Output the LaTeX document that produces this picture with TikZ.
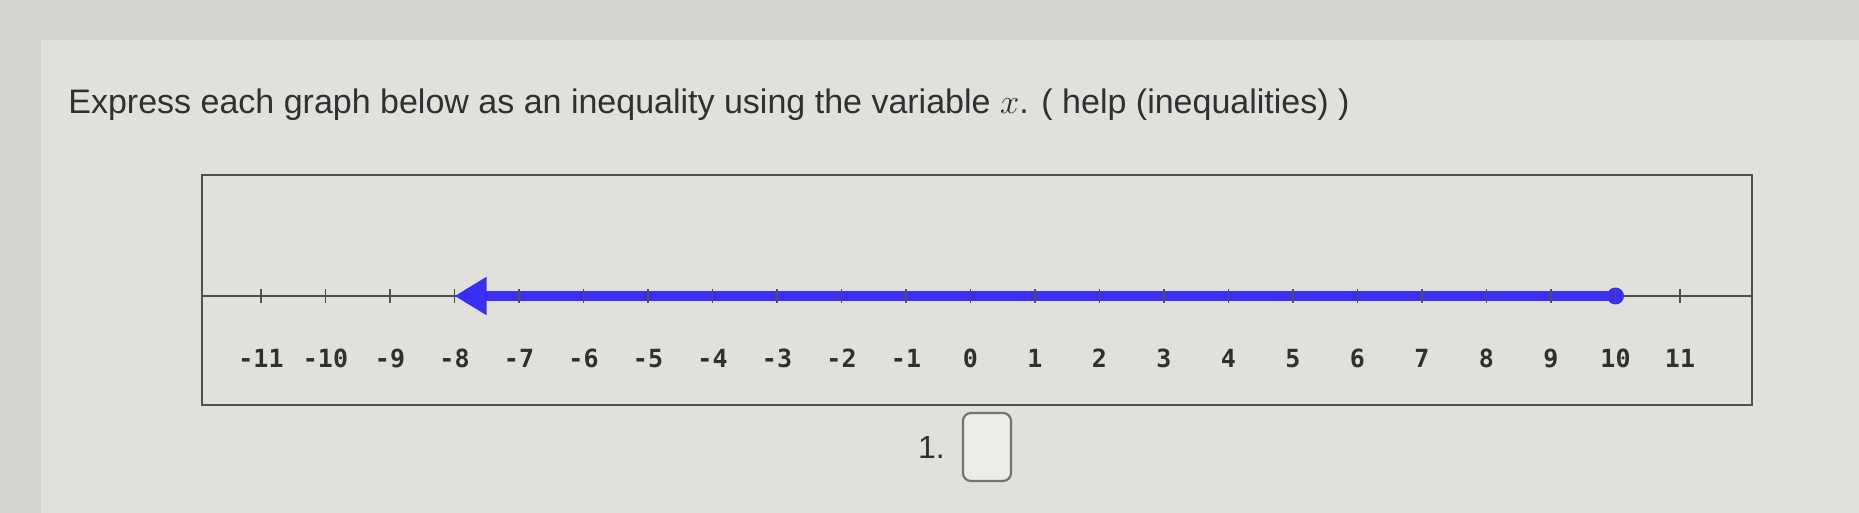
\documentclass[tikz,border=0pt]{standalone}
\usepackage{fontspec}
\setmainfont{Liberation Sans}
\newfontfamily\tickfont{DejaVu Sans Mono}
\usetikzlibrary{arrows.meta}
\definecolor{pagegray}{RGB}{214,212,206}
\definecolor{panelgray}{RGB}{226,224,219}
\definecolor{framegray}{RGB}{80,80,78}
\definecolor{rayblue}{RGB}{58,46,240}
\definecolor{inkgray}{RGB}{48,48,48}

\begin{document}
\begin{tikzpicture}[x=0.5pt, y=-0.5pt,
    frame/.style={draw=framegray, line width=1.3pt},
    axis/.style={draw=framegray, line width=1pt},
    tickmark/.style={draw=framegray, line width=0.8pt},
    ticklabel/.style={anchor=base, font=\tickfont\bfseries\fontsize{12.5}{14}\selectfont, text=inkgray},
    ray/.style={draw=rayblue, line width=5pt, -{Triangle[length=16pt, width=18pt]}}]
  \useasboundingbox (0,0) rectangle (1859,513);
  \fill[pagegray] (0,0) rectangle (1859,513);
  \fill[panelgray] (41,40) rectangle (1859,513);

  \node[anchor=base west, inner sep=0pt, text=inkgray, font=\fontsize{17}{20}\selectfont] (question) at (68,114)
    {Express each graph below as an inequality using the variable $x$. ( help (inequalities) )};

  % number line
  \draw[frame] (202,175) rectangle (1752,405);
  \coordinate (axisL) at (202,296);
  \coordinate (axisR) at (1752,296);
  \draw[axis] (axisL) -- (axisR);
  \foreach \i in {-11,...,11} {
    \coordinate (t\i) at ({970.5+64.5*\i},296);
    \node[ticklabel] (l\i) at ({970.5+64.5*\i},368) {\i};
  }
  \draw[ray] (t10) -- (t-8);
  \fill[rayblue] (t10) circle (4.25pt);
  \foreach \i in {-11,...,11}
    \draw[tickmark] ([yshift=3.5pt]t\i) -- ([yshift=-3.5pt]t\i);

  % answer
  \node[draw=framegray!80, line width=1.1pt, rounded corners=4pt, fill=panelgray!60!white,
        minimum width=24pt, minimum height=34pt] (answer) at (987,447) {};
  \node[anchor=east, text=inkgray, font=\fontsize{16}{19}\selectfont] (num) at ([xshift=-5pt]answer.west) {1.};
\end{tikzpicture}
\end{document}
